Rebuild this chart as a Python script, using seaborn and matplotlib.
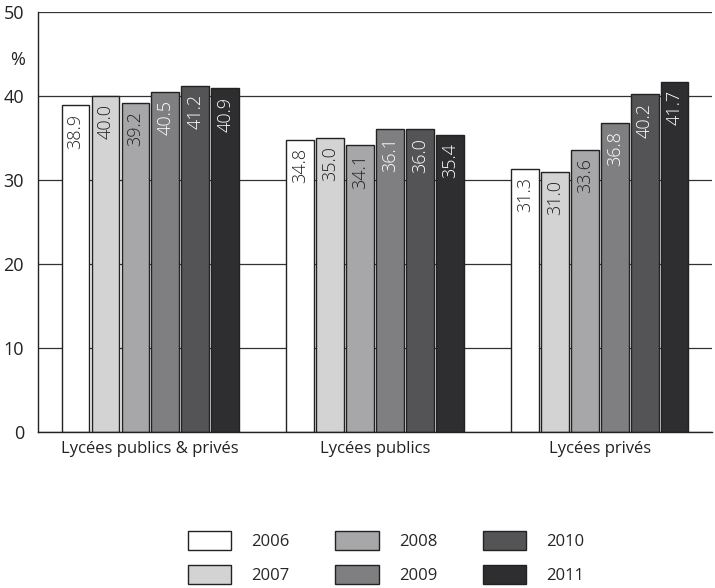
import matplotlib
matplotlib.use("Agg")
import matplotlib.pyplot as plt
import seaborn as sns
import pandas as pd

# données
categories = ["Lycées publics & privés", "Lycées publics", "Lycées privés"]
years = ["2006", "2007", "2008", "2009", "2010", "2011"]
val_total = [38.9, 40.0, 39.2, 40.5, 41.2, 40.9]
val_public = [34.8, 35.0, 34.1, 36.1, 36.0, 35.4]
val_prive = [31.3, 31.0, 33.6, 36.8, 40.2, 41.7]
colors = ["#ffffff", "#d3d3d3", "#a7a7a9", "#7f7f81", "#545456", "#2e2d2f"]
label_colors = ["#222222", "#222222", "#222222", "white", "white", "white"]

rows = []
for cat, vals in zip(categories, [val_total, val_public, val_prive]):
    for y, v in zip(years, vals):
        rows.append({"cat": cat, "year": y, "val": v})
df = pd.DataFrame(rows)

sns.set_style("white")
plt.rcParams["font.family"] = ["Open Sans", "DejaVu Sans"]

fig = plt.figure(figsize=(7.15, 5.88), dpi=100)
ax = fig.add_axes([0.053, 0.265, 0.943, 0.715])

sns.barplot(data=df, x="cat", y="val", hue="year", palette=colors,
            edgecolor="#222222", linewidth=1.0, width=0.8, gap=0.08,
            legend=False, ax=ax)

# étiquettes verticales dans les barres
for cont, lc in zip(ax.containers, label_colors):
    for bar in cont:
        h = bar.get_height()
        ax.text(bar.get_x() + bar.get_width() / 2, h - 1.0, f"{h:.1f}",
                rotation=90, ha="center", va="top", fontsize=13,
                color=lc, fontweight="light")

ax.set_ylim(0, 50)
ax.set_xlim(-0.5, 2.5)
ax.set_yticks([0, 10, 20, 30, 40, 50])
ax.yaxis.grid(True, color="#333333", linewidth=0.9)
ax.set_axisbelow(True)
ax.tick_params(axis="y", length=0, labelsize=13, pad=10, colors="#222222")
ax.tick_params(axis="x", length=0, labelsize=12, pad=6, colors="#222222")
ax.set_xticks([0.5, 1.5], minor=True)
ax.tick_params(axis="x", which="minor", direction="in", length=9, width=1.2, color="#222222")
ax.set_xlabel("")
ax.set_ylabel("")
ax.text(-0.03, 44.3, "%", transform=ax.get_yaxis_transform(), ha="center",
        va="center", fontsize=13, color="#222222")

for s in ["top", "right"]:
    ax.spines[s].set_visible(False)
for s in ["left", "bottom"]:
    ax.spines[s].set_color("#222222")
    ax.spines[s].set_linewidth(1.0)

# légende 3 colonnes
handles = [plt.Rectangle((0, 0), 1, 1, facecolor=c, edgecolor="#222222", linewidth=1.0)
           for c in colors]
fig.legend(handles, years, ncol=3, loc="center", bbox_to_anchor=(0.54, 0.052),
           frameon=False, fontsize=12, handlelength=2.6, handleheight=1.4,
           handletextpad=1.2, columnspacing=2.75, labelspacing=0.9)

fig.savefig("out.png", dpi=100)
